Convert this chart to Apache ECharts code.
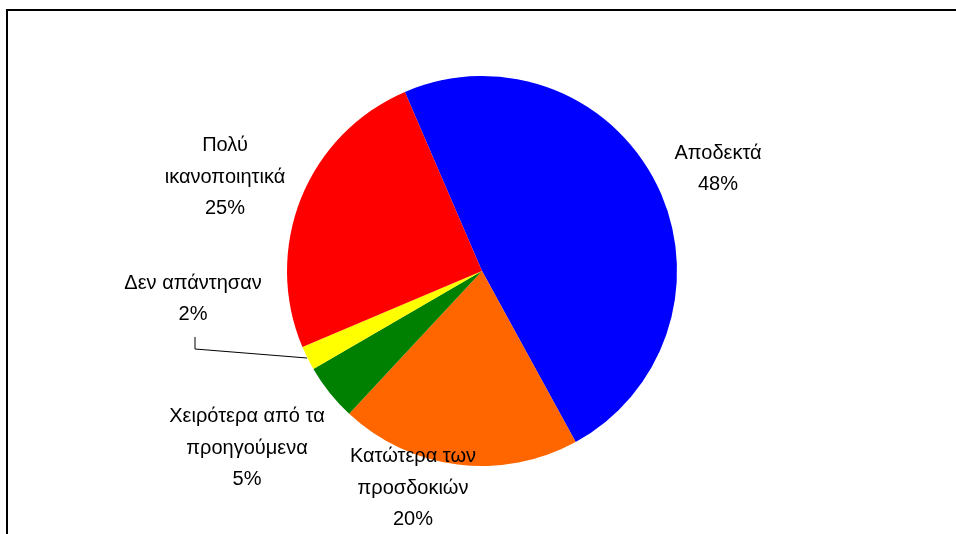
<!DOCTYPE html>
<html>
<head>
<meta charset="utf-8">
<script src="https://cdn.jsdelivr.net/npm/echarts@6/dist/echarts.min.js"></script>
<style>
  html, body { margin: 0; padding: 0; background: #fff; }
  #chart { width: 956px; height: 534px; }
</style>
</head>
<body>
<div id="chart"></div>
<script>
// data (clockwise from the top)
var categories = ['Αποδεκτά', 'Κατώτερα των\nπροσδοκιών', 'Χειρότερα από τα\nπροηγούμενα', 'Δεν απάντησαν', 'Πολύ\nικανοποιητικά'];
var values = [48.5, 19.9, 4.7, 2.0, 24.9];
var colors = ['#0000ff', '#ff6600', '#008000', '#ffff00', '#ff0000'];

// where each label sits (center of text block)
var labelPos = [[718, 169], [413, 488], [247, 448], [193, 299], [225, 177]];

var chart = echarts.init(document.getElementById('chart'));
var option = {
  backgroundColor: '#fff',
  animation: false,
  graphic: [{
    type: 'rect',
    shape: { x: 7, y: 10, width: 1200, height: 1200 },
    style: { fill: 'none', stroke: '#000', lineWidth: 2 },
    silent: true
  }],
  series: [{
    type: 'pie',
    center: [482, 271],
    radius: 195,
    startAngle: 113.3,
    clockwise: true,
    percentPrecision: 0,
    avoidLabelOverlap: false,
    data: categories.map(function (name, i) {
      return {
        name: name,
        value: values[i],
        itemStyle: { color: colors[i] },
        labelLine: { show: i === 3 }
      };
    }),
    label: {
      show: true,
      position: 'outside',
      formatter: '{b}\n{d}%',
      color: '#000',
      fontFamily: 'Liberation Sans, Arial, sans-serif',
      fontSize: 20,
      lineHeight: 31.5,
      align: 'center'
    },
    labelLine: {
      lineStyle: { color: '#000', width: 1 },
      length: 10,
      length2: 10
    },
    labelLayout: function (params) {
      var p = labelPos[params.dataIndex];
      var res = {
        x: p[0],
        y: p[1],
        align: 'center',
        verticalAlign: 'middle'
      };
      // only the small yellow slice gets a leader line
      if (params.dataIndex === 3) {
        res.labelLinePoints = [[307, 358], [195, 349], [195, 337]];
      }
      return res;
    },
    emphasis: { disabled: true }
  }]
};
chart.setOption(option);
</script>
</body>
</html>
